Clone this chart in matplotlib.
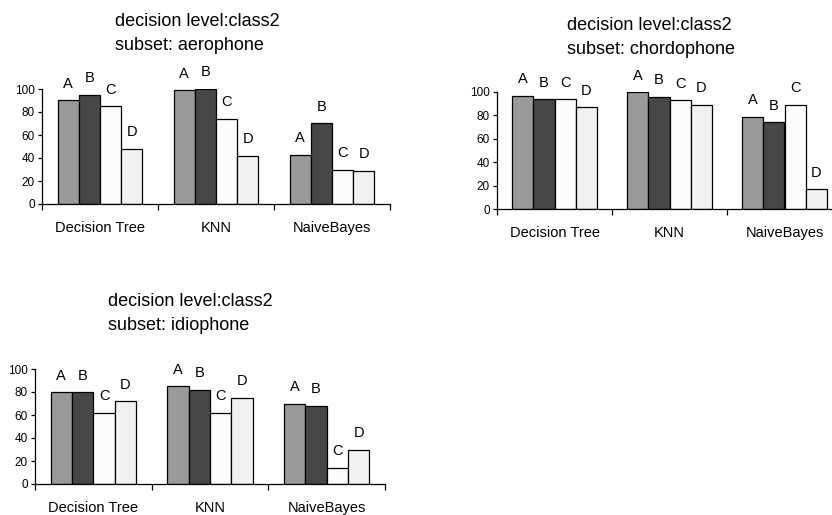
import matplotlib.pyplot as plt
import numpy as np

plt.rcParams['font.family'] = ['Liberation Sans', 'DejaVu Sans']

classifiers = ["Decision Tree", "KNN", "NaiveBayes"]
series = ["A", "B", "C", "D"]
colors = ["#9a9a9a", "#474747", "#fcfcfc", "#f1f1f1"]

# values per classifier, columns A..D
aerophone = [[90, 95, 85, 48],
             [99, 100, 74, 42],
             [43, 70, 30, 29]]
chordophone = [[97, 94, 94, 87],
               [100, 96, 93, 89],
               [79, 74, 89, 17]]
idiophone = [[80, 80, 62, 72],
             [85, 82, 62, 75],
             [70, 68, 14, 30]]

subsets = ["aerophone", "chordophone", "idiophone"]
datasets = [aerophone, chordophone, idiophone]

W, H = 832, 515
# axes boxes in pixels: left, y of zero line, width, height
boxes = [(42, 204, 348, 115),
         (497, 209, 345, 117),
         (35, 484, 350, 115)]
# title left edge and first line centre, pixels
titles = [(115, 21), (567, 25), (108, 302)]

fig = plt.figure(figsize=(W / 100, H / 100), dpi=100)

bw = 0.183
for data, sub, (l, y0, w, h), (tx, ty) in zip(datasets, subsets, boxes, titles):
    ax = fig.add_axes([l / W, 1 - y0 / H, w / W, h / H])
    vals = np.array(data)
    for j, s in enumerate(series):
        xs = np.arange(3) + 0.5 + (j - 1.5) * bw
        ax.bar(xs, vals[:, j], width=bw, color=colors[j], edgecolor='black',
               linewidth=0.9, zorder=2)
        for x, v in zip(xs, vals[:, j]):
            ax.annotate(s, (x, v), xytext=(0, 9), textcoords='offset points',
                        ha='center', va='baseline', fontsize=10.5)
    ax.set_xlim(0, 3)
    ax.set_ylim(0, 100)
    ax.spines['top'].set_visible(False)
    ax.spines['right'].set_visible(False)
    ax.spines['left'].set_linewidth(0.9)
    ax.spines['bottom'].set_linewidth(0.9)
    ax.set_yticks([0, 20, 40, 60, 80, 100])
    ax.tick_params(axis='y', length=3, width=0.9, pad=2, labelsize=8.5)
    ax.set_xticks([0, 1, 2, 3])
    ax.set_xticklabels([])
    ax.tick_params(axis='x', which='major', length=4, width=0.9, direction='out')
    ax.set_xticks([0.5, 1.5, 2.5], minor=True)
    ax.set_xticklabels(classifiers, minor=True, fontsize=10.5)
    ax.tick_params(axis='x', which='minor', length=0, pad=12)
    fig.text(tx / W, 1 - ty / H, "decision level:class2",
             ha='left', va='center', fontsize=13)
    fig.text(tx / W, 1 - (ty + 24) / H, "subset: " + sub,
             ha='left', va='center', fontsize=13)

fig.savefig("out.png", dpi=100)
